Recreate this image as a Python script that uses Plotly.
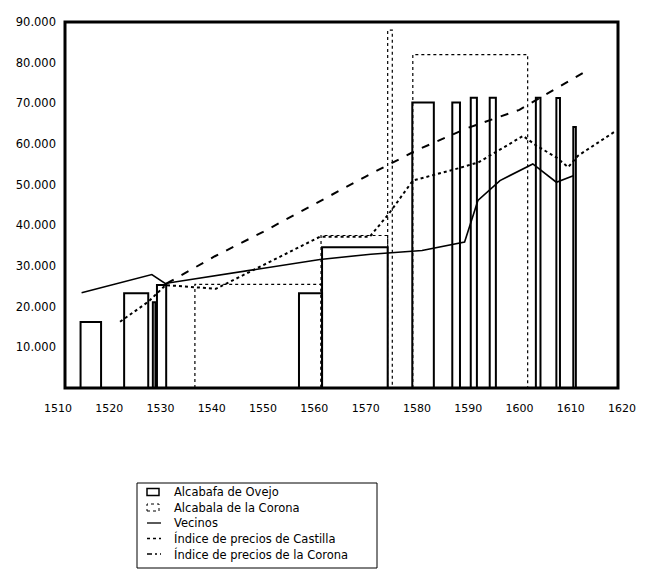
import plotly.graph_objects as go

# ---------------- data ----------------
tick_years = [1510, 1520, 1530, 1540, 1550, 1560, 1570, 1580, 1590, 1600, 1610, 1620]
tick_year_labels = [str(y) for y in tick_years]
y_tick_vals = [10000, 20000, 30000, 40000, 50000, 60000, 70000, 80000, 90000]
y_tick_labels = ["10.000", "20.000", "30.000", "40.000", "50.000", "60.000", "70.000", "80.000", "90.000"]

# Alcabala de Oviedo (solid outlined bars)
oviedo_start = [1514.4, 1522.9, 1528.5, 1529.3, 1557.0, 1561.5, 1579.1, 1586.9, 1590.5, 1594.2, 1603.2, 1607.2, 1610.5]
oviedo_end = [1518.4, 1527.6, 1529.0, 1531.1, 1561.5, 1574.3, 1583.3, 1588.4, 1591.7, 1595.4, 1604.1, 1607.9, 1611.0]
oviedo_val = [16200, 23300, 21100, 25300, 23300, 34600, 70200, 70200, 71400, 71400, 71400, 71300, 64200]

# Alcabala de la Corona (dotted outlined bars)
corona_start = [1536.7, 1561.3, 1574.3, 1579.2]
corona_end = [1561.3, 1574.3, 1575.2, 1601.6]
corona_val = [25500, 37500, 88000, 82000]

# Vecinos (solid line)
vecinos_year = [1514.6, 1528.3, 1530.9, 1561.1, 1571.0, 1581.0, 1589.3, 1591.9, 1596.2, 1602.6, 1607.2, 1610.5]
vecinos_val = [23400, 27900, 25700, 31600, 32900, 33800, 35900, 46100, 51000, 55100, 50600, 52200]

# Indice de precios de Castilla (dotted line)
castilla_year = [1522.1, 1527.6, 1531.0, 1540.8, 1561.1, 1570.8, 1574.5, 1579.2, 1588.0, 1592.0, 1597.0,
                 1600.7, 1603.3, 1607.2, 1609.5, 1611.4, 1618.9]
castilla_val = [16300, 21200, 25300, 24400, 37200, 37200, 42800, 51000, 54000, 55500, 59200,
                62000, 59600, 56700, 54300, 57100, 63300]

# Indice de precios de la Corona (dashed line)
pcorona_year = [1531.2, 1540.6, 1550.0, 1560.0, 1570.0, 1580.0, 1590.0, 1600.0, 1606.2, 1612.4]
pcorona_val = [25700, 32400, 38400, 45200, 52000, 58500, 64000, 68400, 73000, 77500]

legend_names = ["Alcabafa de Ovejo", "Alcabala de la Corona", "Vecinos",
                "Índice de precios de Castilla", "Índice de precios de la Corona"]

FONT = "DejaVu Sans, Arial, sans-serif"

# ---------------- layout geometry (page pixels of the target) ----------------
W, H = 647, 575
OFF = 8                                   # default page margin of the html body
PL, PR, PT, PB = 58, 622, 22, 388         # plot area on page (x 1510..1620, y 0..90000)


def px_x(px):
    return (px - PL) / (PR - PL)


def px_y(py):
    return (PB - py) / (PB - PT)


def rect_outline(starts, ends, vals):
    xs, ys = [], []
    for s, e, v in zip(starts, ends, vals):
        xs += [s, s, e, e, s, None]
        ys += [0, v, v, 0, 0, None]
    return xs, ys


fig = go.Figure()

ox, oy = rect_outline(oviedo_start, oviedo_end, oviedo_val)
fig.add_trace(go.Scatter(x=ox, y=oy, mode="lines",
                         line=dict(color="black", width=2), name=legend_names[0]))

cx, cy = rect_outline(corona_start, corona_end, corona_val)
fig.add_trace(go.Scatter(x=cx, y=cy, mode="lines",
                         line=dict(color="black", width=1.2, dash="dot"), name=legend_names[1]))

fig.add_trace(go.Scatter(x=vecinos_year, y=vecinos_val, mode="lines",
                         line=dict(color="black", width=1.6), name=legend_names[2]))

fig.add_trace(go.Scatter(x=castilla_year, y=castilla_val, mode="lines",
                         line=dict(color="black", width=2, dash="dot"), name=legend_names[3]))

fig.add_trace(go.Scatter(x=pcorona_year, y=pcorona_val, mode="lines",
                         line=dict(color="black", width=2, dash="8px,9px"), name=legend_names[4]))

# ---------------- frame + hand-made legend ----------------
shapes = [dict(type="rect", xref="paper", yref="paper",
               x0=px_x(65), x1=px_x(618), y0=0, y1=1,
               line=dict(color="black", width=3), layer="above")]

LG_L, LG_R, LG_T, LG_B = 137, 377, 483, 568
shapes.append(dict(type="rect", xref="paper", yref="paper",
                   x0=px_x(LG_L), x1=px_x(LG_R), y0=px_y(LG_B), y1=px_y(LG_T),
                   line=dict(color="black", width=1)))
row_y = [492, 507.5, 523, 538.5, 554]
icon_l, icon_r, text_x = 147, 159, 172
shapes.append(dict(type="rect", xref="paper", yref="paper",
                   x0=px_x(icon_l), x1=px_x(icon_r), y0=px_y(row_y[0] + 3.5), y1=px_y(row_y[0] - 3.5),
                   line=dict(color="black", width=1.5)))
shapes.append(dict(type="rect", xref="paper", yref="paper",
                   x0=px_x(icon_l), x1=px_x(icon_r), y0=px_y(row_y[1] + 3.5), y1=px_y(row_y[1] - 3.5),
                   line=dict(color="black", width=1, dash="dot")))
for i, d in zip([2, 3, 4], ["solid", "dot", "5px,3px,2px,3px"]):
    shapes.append(dict(type="line", xref="paper", yref="paper",
                       x0=px_x(icon_l), x1=px_x(icon_r + 2), y0=px_y(row_y[i]), y1=px_y(row_y[i]),
                       line=dict(color="black", width=1.3, dash=d)))

annotations = []
for name, ry in zip(legend_names, row_y):
    annotations.append(dict(text=name, xref="paper", yref="paper", x=px_x(text_x), y=px_y(ry),
                            xanchor="left", yanchor="middle", showarrow=False,
                            font=dict(family=FONT, size=11.5, color="black")))

fig.update_layout(
    width=W, height=H,
    margin=dict(l=PL - OFF, r=W - (PR - OFF), t=PT - OFF, b=H - (PB - OFF), autoexpand=False),
    paper_bgcolor="white", plot_bgcolor="white",
    font=dict(family=FONT, size=11, color="black"),
    showlegend=False,
    shapes=shapes,
    annotations=annotations,
)

fig.update_xaxes(range=[1510, 1620], tickvals=tick_years, ticktext=tick_year_labels,
                 showgrid=False, zeroline=False, showline=False, ticks="", automargin=False,
                 ticklabelstandoff=12,
                 tickfont=dict(family=FONT, size=11, color="black"))
fig.update_yaxes(range=[0, 90000], tickvals=y_tick_vals, ticktext=y_tick_labels,
                 showgrid=False, zeroline=False, showline=False, ticks="", automargin=False,
                 ticklabelstandoff=1,
                 tickfont=dict(family=FONT, size=11.5, color="black"))

fig.write_html("out.html")
